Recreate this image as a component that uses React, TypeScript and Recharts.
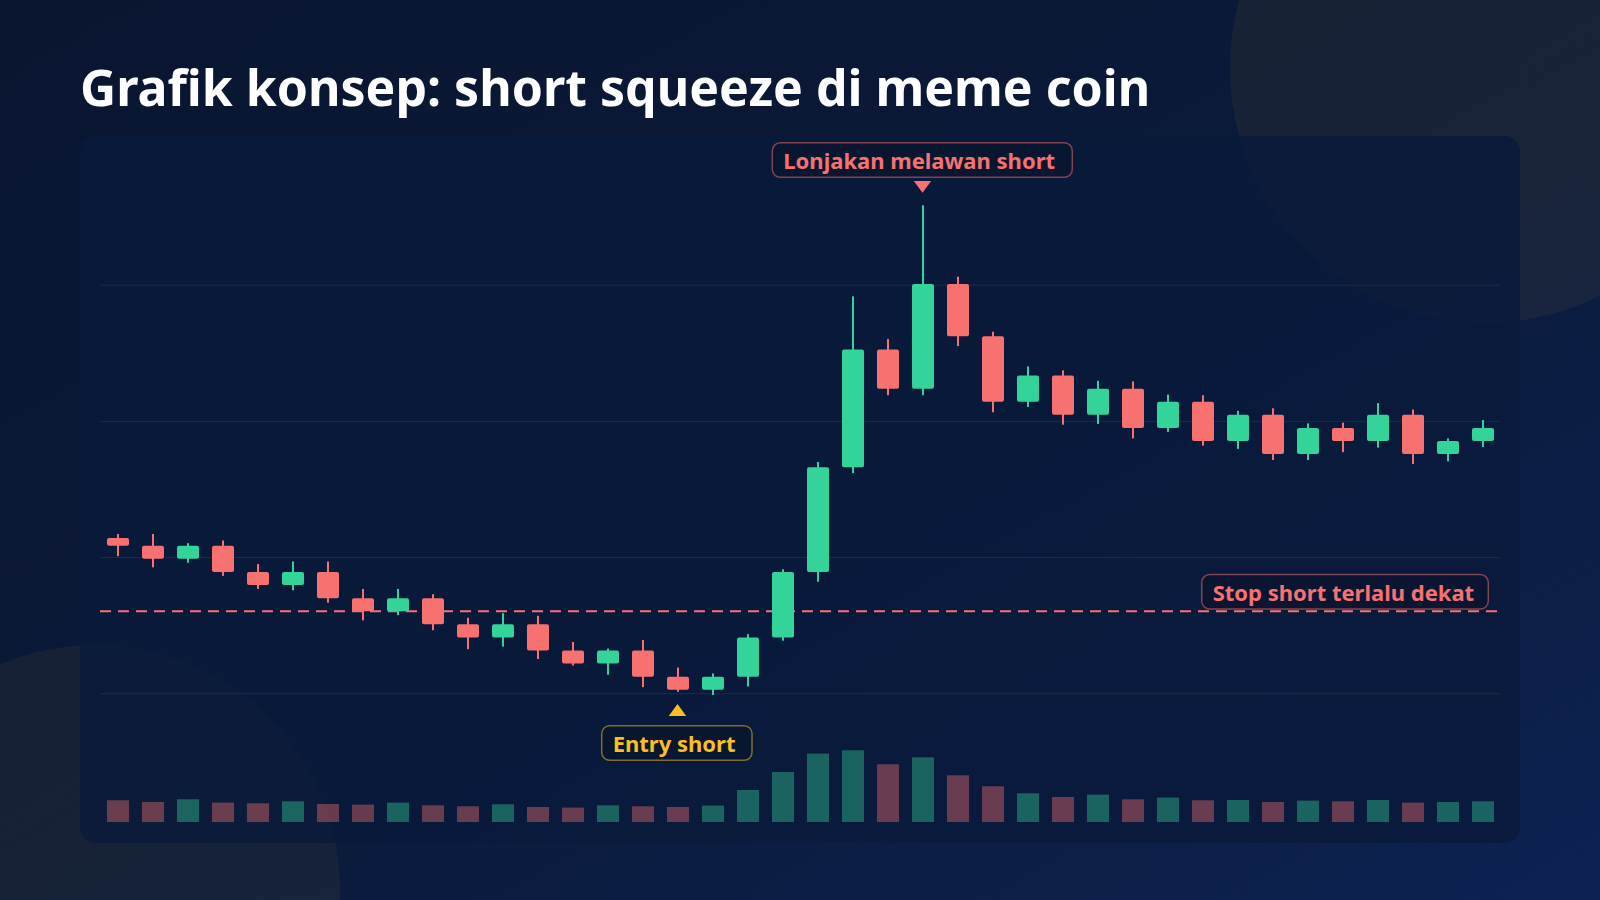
import React from "react";
import { ComposedChart, Bar, XAxis, YAxis, CartesianGrid, ReferenceDot } from "recharts";

// ---------- data ----------
const PERIODS = [
  "D1", "D2", "D3", "D4", "D5", "D6", "D7", "D8", "D9", "D10",
  "D11", "D12", "D13", "D14", "D15", "D16", "D17", "D18", "D19", "D20",
  "D21", "D22", "D23", "D24", "D25", "D26", "D27", "D28", "D29", "D30",
  "D31", "D32", "D33", "D34", "D35", "D36", "D37", "D38", "D39", "D40",
];
const OPEN = [
  22.6, 22, 21, 22, 20, 19, 20, 18, 17, 18,
  16, 15, 16, 14, 13, 14, 12, 11, 12, 15,
  20, 28, 37, 34, 42, 38, 33, 35, 32, 34,
  31, 33, 30, 32, 29, 31, 30, 32, 29, 30,
];
const HIGH = [
  22.9, 22.9, 22.2, 22.4, 20.6, 20.8, 20.8, 18.7, 18.7, 18.3,
  16.5, 16.85, 16.65, 14.65, 14.15, 14.8, 12.7, 12.25, 15.25, 20.2,
  28.4, 41.05, 37.8, 48.0, 42.55, 38.35, 35.7, 35.4, 34.6, 34.55,
  33.55, 33.5, 32.3, 32.5, 31.35, 31.4, 32.9, 32.4, 30.2, 31.6,
];
const LOW = [
  21.2, 20.35, 20.7, 19.7, 18.7, 18.6, 17.65, 16.3, 16.7, 15.55,
  14.1, 14.3, 13.35, 12.85, 12.15, 11.2, 10.85, 10.6, 11.25, 14.75,
  19.25, 27.55, 33.5, 33.5, 37.25, 32.2, 32.6, 31.25, 31.3, 30.2,
  30.7, 29.65, 29.4, 28.55, 28.55, 29.15, 29.5, 28.25, 28.45, 29.55,
];
const CLOSE = [
  22.0, 21, 22, 20, 19, 20, 18, 17, 18, 16,
  15, 16, 14, 13, 14, 12, 11, 12, 15, 20,
  28, 37, 34, 42, 38, 33, 35, 32, 34, 31,
  33, 30, 32, 29, 31, 30, 32, 29, 30, 31,
];
const VOLUME = [
  217, 200, 227, 194, 187, 207, 180, 174, 194, 167,
  157, 177, 150, 144, 167, 157, 150, 164, 320, 500,
  684, 717, 577, 647, 467, 357, 287, 250, 274, 227,
  244, 217, 220, 200, 214, 207, 220, 194, 200, 207,
];
const GRID_LEVELS = [10.7, 21.1, 31.5, 41.9];
const STOP_LEVEL = 17;
const ENTRY_PERIOD = "D17";
const ENTRY_PRICE = 10.85;
const PEAK_PERIOD = "D24";
const PEAK_PRICE = 48.0;
const LAST_PERIOD = "D40";

const TITLE = "Grafik konsep: short squeeze di meme coin";
const LABEL_PEAK = "Lonjakan melawan short";
const LABEL_ENTRY = "Entry short";
const LABEL_STOP = "Stop short terlalu dekat";

// ---------- styles ----------
const GREEN = "#34d399";
const RED = "#f87171";
const AMBER = "#fbbf24";
const FONT = "'Noto Sans', 'Open Sans', sans-serif";

const data = PERIODS.map((p, i) => ({
  period: p,
  open: OPEN[i],
  high: HIGH[i],
  low: LOW[i],
  close: CLOSE[i],
  range: [LOW[i], HIGH[i]],
  volume: VOLUME[i],
}));

const Candle = (props: any) => {
  const { x, y, width, height, payload } = props;
  if (!payload || x == null || y == null) return null;
  const { open, close, high, low } = payload;
  const top = Math.min(y, y + height);
  const h = Math.abs(height);
  const ppu = h / (high - low);
  const bodyTop = top + (high - Math.max(open, close)) * ppu;
  const bodyBot = top + (high - Math.min(open, close)) * ppu;
  const color = close >= open ? GREEN : RED;
  const cx = x + width / 2;
  return (
    <g>
      <rect x={cx - 1} y={top} width={2} height={h} fill={color} />
      <rect x={x} y={bodyTop} width={width} height={Math.max(bodyBot - bodyTop, 1)} rx={2} ry={2} fill={color} />
    </g>
  );
};

const VolumeBar = (props: any) => {
  const { x, y, width, height, payload } = props;
  if (!payload || x == null || y == null) return null;
  const up = payload.close >= payload.open;
  return <rect x={x} y={y} width={width} height={height} fill={up ? GREEN : RED} fillOpacity={0.4} />;
};

const LabelBox = ({ x, y, w, text, color }: { x: number; y: number; w: number; text: string; color: string }) => (
  <g>
    <rect x={x} y={y} width={w} height={34.6} rx={8} ry={8} fill="#0a1630" fillOpacity={0.9} stroke={color} strokeOpacity={0.5} strokeWidth={1.5} />
    <text x={x + 11} y={y + 26.6} fill={color} fontFamily={FONT} fontWeight={700} fontSize={22}>
      {text}
    </text>
  </g>
);

const PeakMarker = (props: any) => {
  const { cx, cy } = props;
  if (cx == null || cy == null) return null;
  const tip = cy - 12.6;
  return (
    <g>
      <polygon points={`${cx - 8.7},${tip - 11.7} ${cx + 8.7},${tip - 11.7} ${cx},${tip}`} fill={RED} />
      <LabelBox x={cx - 150.2} y={cy - 62.6} w={300} text={LABEL_PEAK} color={RED} />
    </g>
  );
};

const EntryMarker = (props: any) => {
  const { cx, cy } = props;
  if (cx == null || cy == null) return null;
  const tip = cy + 12.3;
  return (
    <g>
      <polygon points={`${cx - 8.7},${tip + 12} ${cx + 8.7},${tip + 12} ${cx},${tip}`} fill={AMBER} />
      <LabelBox x={cx - 75.8} y={cy + 34} w={150.3} text={LABEL_ENTRY} color={AMBER} />
    </g>
  );
};

const StopMarker = (props: any) => {
  const { cx, cy } = props;
  if (cx == null || cy == null) return null;
  return <LabelBox x={cx - 280.8} y={cy - 36.7} w={286.6} text={LABEL_STOP} color={RED} />;
};

export default function App() {
  return (
    <div style={{ position: "fixed", left: 0, top: 0, width: 1600, height: 900, overflow: "hidden", background: "#0a1a38" }}>
      <svg width={1600} height={900} style={{ position: "absolute", left: 0, top: 0 }}>
        <defs>
          <linearGradient id="bgGrad" x1="0" y1="0" x2="1" y2="1">
            <stop offset="0" stopColor="#0a1630" />
            <stop offset="0.55" stopColor="#0a1a3a" />
            <stop offset="1" stopColor="#0d2252" />
          </linearGradient>
        </defs>
        <rect x={0} y={0} width={1600} height={900} fill="url(#bgGrad)" />
        <circle cx={1485} cy={68} r={255} fill="#fbbf24" fillOpacity={0.06} />
        <circle cx={95} cy={890} r={245} fill="#fbbf24" fillOpacity={0.05} />
        <rect x={80} y={136} width={1440} height={707} rx={16} ry={16} fill="#0a1a3b" fillOpacity={0.82} />
        <text x={80} y={106} fill="#ffffff" fontFamily={FONT} fontWeight={700} fontSize={50}>
          {TITLE}
        </text>
      </svg>
      <div style={{ position: "absolute", left: 0, top: 0 }}>
        <ComposedChart width={1600} height={900} data={data} margin={{ top: 153, right: 100, bottom: 78, left: 100 }}>
          <XAxis xAxisId="c" dataKey="period" type="category" hide />
          <XAxis xAxisId="v" dataKey="period" type="category" hide />
          <YAxis yAxisId="p" type="number" domain={[0.9, 52]} allowDataOverflow hide />
          <YAxis yAxisId="v" type="number" domain={[0, 6690]} allowDataOverflow hide />
          <CartesianGrid xAxisId="c" yAxisId="p" vertical={false} horizontalValues={GRID_LEVELS} stroke="#1a2c4c" strokeWidth={1} />
          <CartesianGrid xAxisId="c" yAxisId="p" vertical={false} horizontalValues={[STOP_LEVEL]} stroke={RED} strokeWidth={2} strokeDasharray="11 7" />
          <Bar xAxisId="v" yAxisId="v" dataKey="volume" barSize={22} shape={VolumeBar} isAnimationActive={false} />
          <Bar xAxisId="c" yAxisId="p" dataKey="range" barSize={22} shape={Candle} isAnimationActive={false} />
          <ReferenceDot xAxisId="c" yAxisId="p" x={PEAK_PERIOD} y={PEAK_PRICE} r={0} shape={PeakMarker} ifOverflow="visible" />
          <ReferenceDot xAxisId="c" yAxisId="p" x={ENTRY_PERIOD} y={ENTRY_PRICE} r={0} shape={EntryMarker} ifOverflow="visible" />
          <ReferenceDot xAxisId="c" yAxisId="p" x={LAST_PERIOD} y={STOP_LEVEL} r={0} shape={StopMarker} ifOverflow="visible" />
        </ComposedChart>
      </div>
    </div>
  );
}
